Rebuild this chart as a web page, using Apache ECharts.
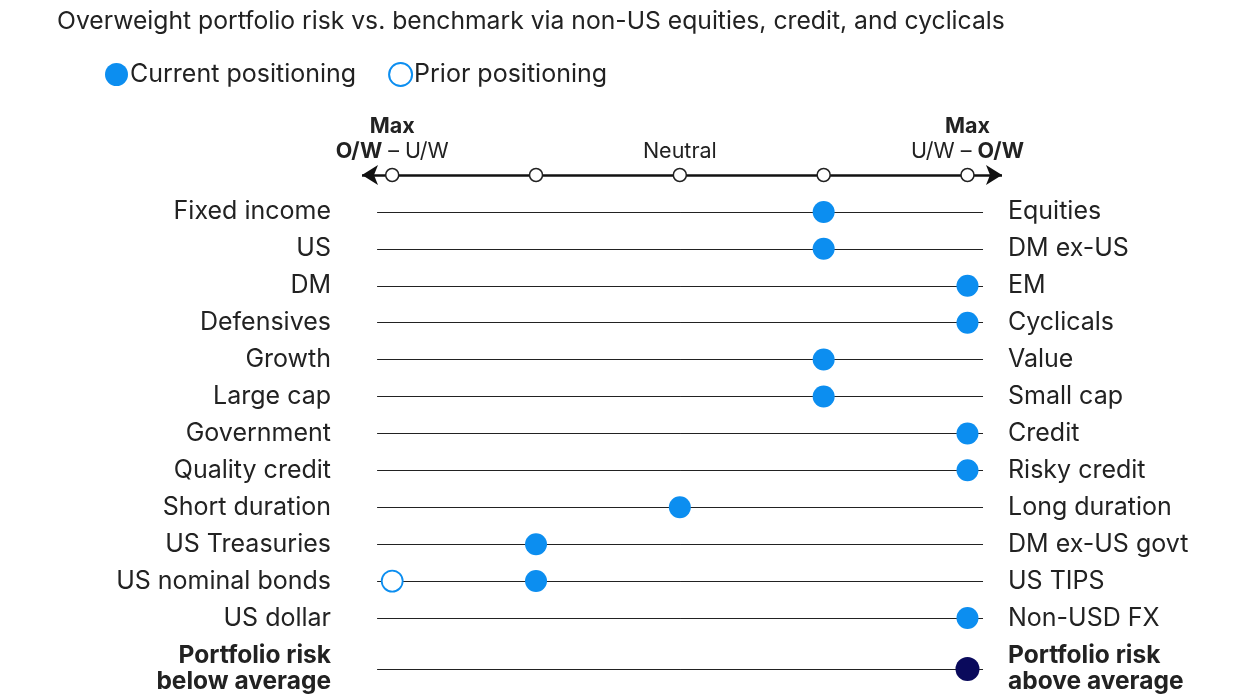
<!DOCTYPE html>
<html>
<head>
<meta charset="utf-8">
<script src="https://cdn.jsdelivr.net/npm/echarts@6/dist/echarts.min.js"></script>
<style>
html,body{margin:0;padding:0;background:#fff;}
#chart{width:1248px;height:700px;}
</style>
</head>
<body>
<div id="chart"></div>
<script>
// ---- data ----
const titleText = 'Overweight portfolio risk vs. benchmark via non-US equities, credit, and cyclicals';
const leftLabels = ['Fixed income','US','DM','Defensives','Growth','Large cap','Government','Quality credit','Short duration','US Treasuries','US nominal bonds','US dollar'];
const rightLabels = ['Equities','DM ex-US','EM','Cyclicals','Value','Small cap','Credit','Risky credit','Long duration','DM ex-US govt','US TIPS','Non-USD FX'];
const currentValues = [1, 1, 2, 2, 1, 1, 2, 2, 0, -1, -1, 2];
const priorValues = [null, null, null, null, null, null, null, null, null, null, -2, null];
const scaleTicks = [-2, -1, 0, 1, 2];
const scaleLabels = {'-2': 'left', '0': 'neutral', '2': 'right'};
const portfolioLeft = 'Portfolio risk\nbelow average';
const portfolioRight = 'Portfolio risk\nabove average';
const portfolioValue = 2;

const HEADER = '__header__';
const leftCats = [HEADER].concat(leftLabels);
const rightCats = [HEADER].concat(rightLabels);

const FONT = 'Inter';
const TXT = '#222';
const BLUE = '#0c8ef0';
const NAVY = '#0a0a5c';
const X_MIN = -2.21, X_MAX = 2.24, ROW_MIN = -2.105, ROW_MAX = 2.108;

const chart = echarts.init(document.getElementById('chart'));

const xBase = {
  type: 'value', min: X_MIN, max: X_MAX,
  axisLine: {show: false}, axisTick: {show: false}, splitLine: {show: false}
};

const rowLine = (cat) => [{coord: [ROW_MIN, cat]}, {coord: [ROW_MAX, cat]}];

const option = {
  backgroundColor: '#fff',
  animation: false,
  textStyle: {fontFamily: FONT},
  title: {
    text: titleText, left: 52, top: 4,
    textStyle: {fontFamily: FONT, fontSize: 24.7, fontWeight: 'normal', color: TXT}
  },
  legend: {
    left: 100, top: 57, itemWidth: 23, itemHeight: 23, itemGap: 32,
    icon: 'circle',
    data: ['Current positioning', 'Prior positioning'],
    textStyle: {fontFamily: FONT, fontSize: 25, color: TXT, padding: [0, 0, 0, -3]}
  },
  grid: [
    {left: 362, right: 246, top: 175, bottom: 82},
    {left: 362, right: 246, top: 650, height: 38}
  ],
  xAxis: [
    Object.assign({}, xBase, {
      gridIndex: 0, position: 'top',
      axisLabel: {
        show: true, customValues: [-2, 0, 2], margin: 11,
        formatter: function (v) {
          const k = scaleLabels[String(Math.round(v))];
          if (k === 'left') return '{b|Max}\n{b|O/W}{n| – U/W}';
          if (k === 'right') return '{b|Max}\n{n|U/W – }{b|O/W}';
          if (k === 'neutral') return '{n|Neutral}';
          return '';
        },
        rich: {
          b: {fontFamily: FONT, fontSize: 21.5, fontWeight: 'bold', color: TXT, lineHeight: 25},
          n: {fontFamily: FONT, fontSize: 21.5, color: TXT, lineHeight: 25}
        }
      }
    }),
    Object.assign({}, xBase, {gridIndex: 1, axisLabel: {show: false}})
  ],
  yAxis: [
    {
      gridIndex: 0, type: 'category', data: leftCats, inverse: true, boundaryGap: false,
      position: 'left',
      axisLine: {show: false}, axisTick: {show: false}, splitLine: {show: false},
      axisLabel: {
        margin: 31, fontFamily: FONT, fontSize: 25, color: TXT,
        formatter: v => v === HEADER ? '' : v
      }
    },
    {
      gridIndex: 0, type: 'category', data: rightCats, inverse: true, boundaryGap: false,
      position: 'right',
      axisLine: {show: false}, axisTick: {show: false}, splitLine: {show: false},
      axisLabel: {
        margin: 6, fontFamily: FONT, fontSize: 25, color: TXT,
        formatter: v => v === HEADER ? '' : v
      }
    },
    {
      gridIndex: 1, type: 'category', data: [portfolioLeft], position: 'left',
      axisLine: {show: false}, axisTick: {show: false}, splitLine: {show: false},
      axisLabel: {
        margin: 31, fontFamily: FONT, fontSize: 24.5, fontWeight: 'bold', color: TXT,
        lineHeight: 26, align: 'right'
      }
    },
    {
      gridIndex: 1, type: 'category', data: [portfolioRight], position: 'right',
      axisLine: {show: false}, axisTick: {show: false}, splitLine: {show: false},
      axisLabel: {
        margin: 6, fontFamily: FONT, fontSize: 24.5, fontWeight: 'bold', color: TXT,
        lineHeight: 26, align: 'left'
      }
    }
  ],
  series: [
    {
      name: 'rows', type: 'scatter', xAxisIndex: 0, yAxisIndex: 0,
      symbolSize: 0, silent: true, data: [],
      markLine: {
        silent: true, symbol: ['none', 'none'], label: {show: false},
        lineStyle: {color: '#222', width: 1, type: 'solid'},
        data: leftLabels.map(rowLine)
      }
    },
    {
      name: 'scale', type: 'scatter', xAxisIndex: 0, yAxisIndex: 0,
      symbolSize: 13, z: 5, silent: true,
      itemStyle: {color: '#fff', borderColor: '#222', borderWidth: 1.5, opacity: 1},
      data: scaleTicks.map(v => [v, HEADER]),
      markLine: {
        silent: true, symbol: ['arrow', 'arrow'], symbolSize: [15, 16],
        label: {show: false},
        lineStyle: {color: '#111', width: 2.5, type: 'solid'},
        data: [[{coord: [X_MIN, HEADER]}, {coord: [X_MAX, HEADER]}]]
      }
    },
    {
      name: 'Prior positioning', type: 'scatter', xAxisIndex: 0, yAxisIndex: 0,
      symbolSize: 21, z: 6,
      itemStyle: {color: '#fff', borderColor: BLUE, borderWidth: 1.8, opacity: 1},
      data: priorValues.map((v, i) => v === null ? null : [v, leftLabels[i]]).filter(d => d)
    },
    {
      name: 'Current positioning', type: 'scatter', xAxisIndex: 0, yAxisIndex: 0,
      symbolSize: 22, z: 7,
      itemStyle: {color: BLUE, opacity: 1},
      data: currentValues.map((v, i) => [v, leftLabels[i]])
    },
    {
      name: 'Portfolio risk', type: 'scatter', xAxisIndex: 1, yAxisIndex: 2,
      symbolSize: 24, z: 7,
      itemStyle: {color: NAVY, opacity: 1},
      data: [[portfolioValue, portfolioLeft]],
      markLine: {
        silent: true, symbol: ['none', 'none'], label: {show: false},
        lineStyle: {color: '#222', width: 1, type: 'solid'},
        data: [[{coord: [ROW_MIN, portfolioLeft]}, {coord: [ROW_MAX, portfolioLeft]}]]
      }
    }
  ]
};
chart.setOption(option);
</script>
</body>
</html>
